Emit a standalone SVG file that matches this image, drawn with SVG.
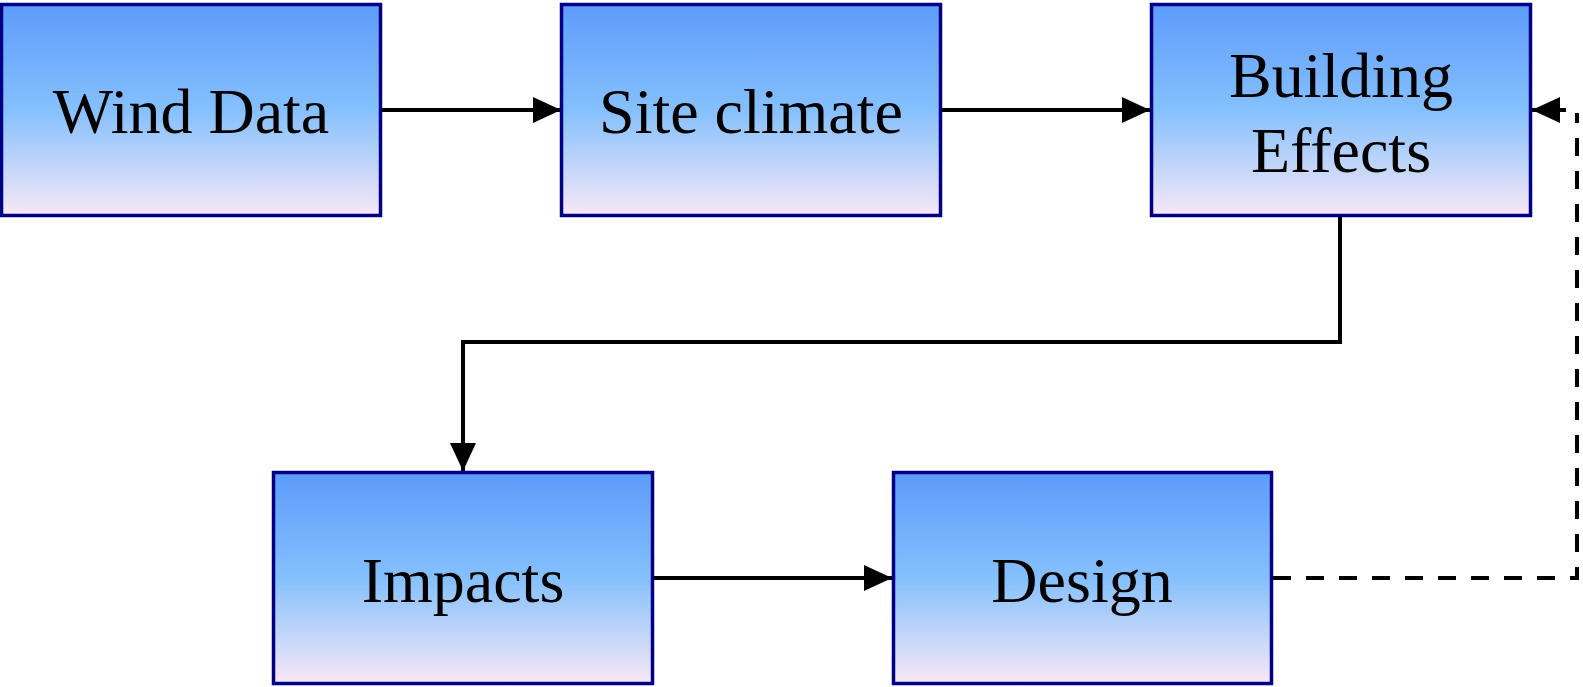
<svg xmlns="http://www.w3.org/2000/svg" width="1583" height="687" viewBox="0 0 1583 687">
  <style>
    .box { fill: url(#boxFill); stroke: #000087; stroke-width: 3.5; }
    .label { font-family: "Liberation Serif", "Times New Roman", serif; font-size: 64px; fill: #000; text-anchor: middle; }
    .link { fill: none; stroke: #000; stroke-width: 4; }
    .dash { stroke-dasharray: 18 15; }
  </style>
  <defs>
    <linearGradient id="boxFill" x1="0" y1="0" x2="0" y2="1">
      <stop offset="0" stop-color="#5d9bfc"/>
      <stop offset="0.5" stop-color="#85c0fd"/>
      <stop offset="1" stop-color="#f8e8f6"/>
    </linearGradient>
    <marker id="arrow" viewBox="0 0 28 26" refX="28" refY="13" markerWidth="28" markerHeight="26" markerUnits="userSpaceOnUse" orient="auto">
      <path d="M0,0 L28,13 L0,26 Z" fill="#000"/>
    </marker>
  </defs>

  <g id="connectors">
    <line class="link" x1="382" y1="110" x2="561" y2="110" marker-end="url(#arrow)"/>
    <line class="link" x1="942" y1="110" x2="1150" y2="110" marker-end="url(#arrow)"/>
    <polyline class="link" points="1340,216 1340,342 463,342 463,471" marker-end="url(#arrow)"/>
    <line class="link" x1="654" y1="578" x2="892" y2="578" marker-end="url(#arrow)"/>
    <polyline class="link dash" points="1273,578 1577,578 1577,113"/>
    <line class="link" x1="1566" y1="110" x2="1532" y2="110" marker-end="url(#arrow)"/>
  </g>

  <g id="wind-data">
    <rect class="box" x="1.5" y="4.5" width="379" height="211"/>
    <text class="label" x="191" y="133">Wind Data</text>
  </g>
  <g id="site-climate">
    <rect class="box" x="561.5" y="4.5" width="379" height="211"/>
    <text class="label" x="751" y="133">Site climate</text>
  </g>
  <g id="building-effects">
    <rect class="box" x="1151.5" y="4.5" width="379" height="211"/>
    <text class="label" x="1341" y="97">Building</text>
    <text class="label" x="1341" y="172">Effects</text>
  </g>
  <g id="impacts">
    <rect class="box" x="273.5" y="472.5" width="379" height="211"/>
    <text class="label" x="463" y="602">Impacts</text>
  </g>
  <g id="design">
    <rect class="box" x="893.5" y="472.5" width="378" height="211"/>
    <text class="label" x="1082" y="602">Design</text>
  </g>
</svg>
